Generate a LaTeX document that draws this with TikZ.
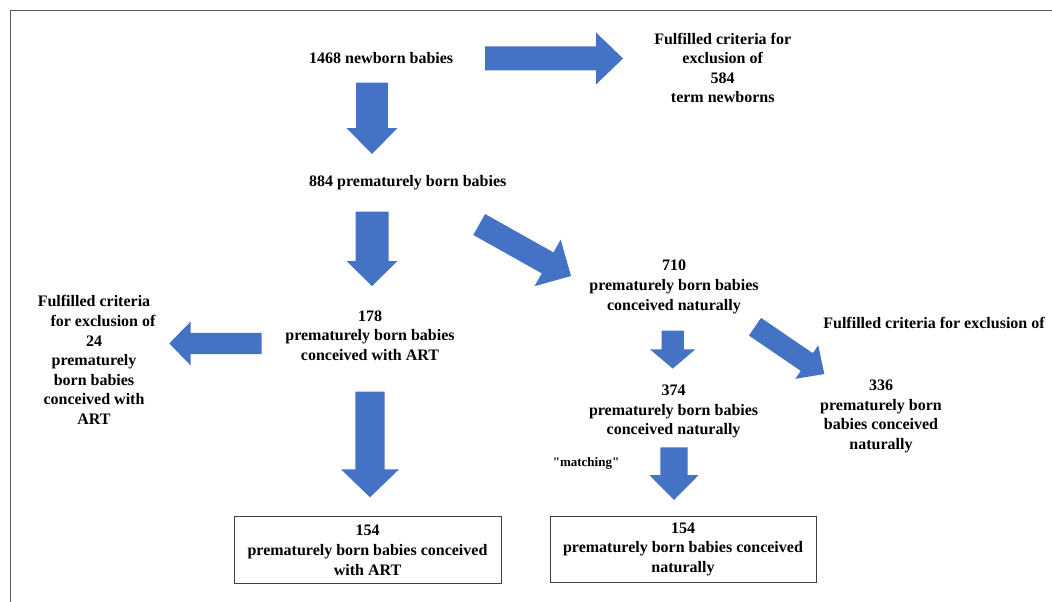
\documentclass[tikz,border=0pt]{standalone}
\usepackage{fontspec}
\setmainfont{Liberation Serif}
\newfontfamily\rawserif{Liberation Serif}[Ligatures=TeXOff]
\usetikzlibrary{calc}
\definecolor{arrowblue}{HTML}{4472C4}
\newcommand\blockarrow[5]{% tail, tip, half body width, half head width, head length
  \coordinate (ba-h) at ($(#2)!#5!(#1)$);
  \fill[arrowblue] ($(#1)!#3!90:(#2)$) -- ($(ba-h)!#3!90:(#2)$) -- ($(ba-h)!#4!90:(#2)$) -- (#2)
    -- ($(ba-h)!#4!-90:(#2)$) -- ($(ba-h)!#3!-90:(#2)$) -- ($(#1)!#3!-90:(#2)$) -- cycle;
}
\begin{document}
\begin{tikzpicture}[x=1pt,y=-1pt,
  txt/.style={inner sep=0pt, font=\fontsize{16}{19.6}\selectfont\bfseries, align=center},
  smalltxt/.style={inner sep=0pt, font=\rawserif\fontsize{13}{15}\selectfont\bfseries},
  resultbox/.style={txt, draw=black!75, line width=0.8pt, minimum width=267pt, minimum height=67pt}]
\useasboundingbox (0,0) rectangle (1052,602);
\fill[white] (0,0) rectangle (1052,602);
% frame
\draw[black!65, line width=1pt] (10,602) -- (10,11) -- (1052,11);

% text nodes
\node[txt, anchor=base west] (n1468) at (309,63.5) {1468 newborn babies};
\node[txt, anchor=base west] (n884) at (309,186.5) {884 prematurely born babies};
\node[txt] (exc584) at (722.7,68) {Fulfilled criteria for\\exclusion of\\584\\term newborns};
\node[txt] (n178) at (370,335.5) {178\\prematurely born babies\\conceived with ART};
\node[txt] (exc24) at (94,360) {Fulfilled criteria\\\hspace*{18pt}for exclusion of\\24\\prematurely\\born babies\\conceived with\\ART};
\node[txt] (n710) at (674,287) {710\\prematurely born babies\\conceived naturally};
\node[txt] (n374) at (673.6,411.5) {374\\prematurely born babies\\conceived naturally};
\node[txt, anchor=base] (exc336) at (934,328.5) {Fulfilled criteria for exclusion of};
\node[txt] (n336) at (881,416.5) {336\\prematurely born\\babies conceived\\naturally};
\node[smalltxt] (matching) at (586,463.5) {"matching"};
\node[resultbox] (box1) at (367.5,550.3) {154\\prematurely born babies conceived\\with ART};
\node[resultbox, minimum width=266pt, minimum height=66pt] (box2) at (683,549.2) {154\\prematurely born babies conceived\\naturally};

% arrow end points
\coordinate (a1s) at (485,58.5);   \coordinate (a1e) at (623,58.5);
\coordinate (a2s) at (372,82.7);   \coordinate (a2e) at (372,154);
\coordinate (a3s) at (372,211.7);  \coordinate (a3e) at (372,286);
\coordinate (a4s) at (261.7,343.5);\coordinate (a4e) at (169.3,343.5);
\coordinate (a5s) at (479.2,224.5);\coordinate (a5e) at (571,276);
\coordinate (a6s) at (755,326.7);  \coordinate (a6e) at (824.3,374);
\coordinate (a7s) at (672.7,330.6);\coordinate (a7e) at (672.7,368.6);
\coordinate (a8s) at (370,391.7);  \coordinate (a8e) at (370,497.3);
\coordinate (a9s) at (674,447.3);  \coordinate (a9e) at (674,500);

\blockarrow{a1s}{a1e}{12pt}{26pt}{27pt}
\blockarrow{a2s}{a2e}{15.8pt}{25.5pt}{26pt}
\blockarrow{a3s}{a3e}{16.5pt}{25.5pt}{25pt}
\blockarrow{a4s}{a4e}{10.7pt}{22pt}{21.4pt}
\blockarrow{a5s}{a5e}{12pt}{26.7pt}{26.8pt}
\blockarrow{a6s}{a6e}{10.7pt}{20.3pt}{21.2pt}
\blockarrow{a7s}{a7e}{11.2pt}{22.7pt}{19.3pt}
\blockarrow{a8s}{a8e}{14.7pt}{29pt}{28pt}
\blockarrow{a9s}{a9e}{13.7pt}{24.7pt}{25pt}
\end{tikzpicture}
\end{document}
